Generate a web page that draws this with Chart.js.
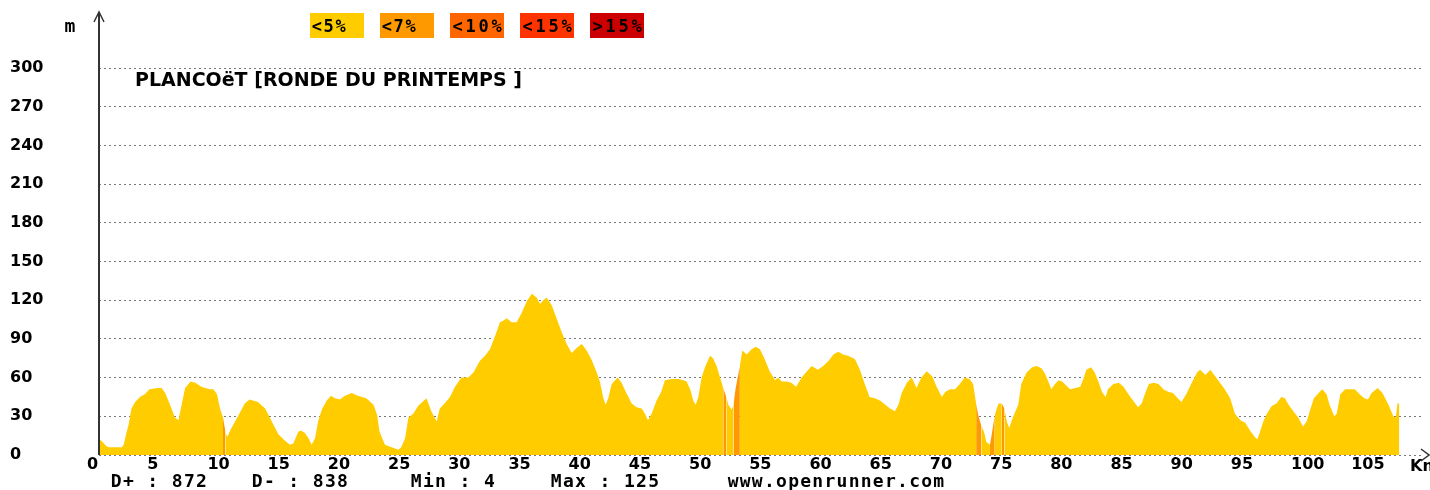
<!DOCTYPE html>
<html>
<head>
<meta charset="utf-8">
<script src="https://cdn.jsdelivr.net/npm/chart.js@4/dist/chart.umd.min.js"></script>
<style>
  html, body { margin: 0; padding: 0; background: #fff; }
  #wrap { width: 1430px; height: 490px; }
</style>
</head>
<body>
<div id="wrap"><canvas id="profile-canvas" width="1430" height="490"></canvas></div>
<script>
// distance (km) and elevation (m) of the profile
const km = [
  0, 0.2, 0.6, 0.8, 1.9, 2.05, 2.3, 2.45, 2.7, 3.0, 3.4, 3.8, 4.2, 4.9, 5.2, 5.5, 5.9, 6.3, 6.6, 6.8,
  7.15, 7.6, 8.0, 8.5, 9.2, 9.5, 9.8, 10.05, 10.3, 10.5, 10.65, 11.0, 11.6, 12.1, 12.5, 13.2, 13.8, 14.35, 14.9, 15.45,
  15.86, 16.14, 16.55, 16.78, 17.1, 17.4, 17.66, 17.94, 18.2, 18.5, 18.9, 19.27, 19.6, 20.0, 20.43, 20.98, 21.5, 22.2, 22.8, 23.1,
  23.3, 23.75, 24.3, 24.86, 25.1, 25.42, 25.7, 26.1, 26.5, 26.97, 27.2, 27.6, 28.05, 28.3, 28.7, 29.15, 29.57, 30.1, 30.67, 31.1,
  31.64, 32.06, 32.47, 32.89, 33.3, 33.58, 33.86, 34.27, 34.69, 35.1, 35.52, 35.94, 36.35, 36.63, 36.9, 37.18, 37.6, 38.0, 38.4, 38.84,
  39.26, 39.67, 40.1, 40.5, 40.9, 41.3, 41.6, 41.89, 42.08, 42.3, 42.58, 43.08, 43.4, 43.8, 44.24, 44.65, 45.07, 45.35, 45.6, 45.9,
  46.3, 46.7, 47.0, 47.56, 48.12, 48.53, 48.8, 49.1, 49.36, 49.56, 49.78, 50.05, 50.33, 50.75, 51.0, 51.3, 51.58, 51.85, 52.1, 52.27,
  52.55, 52.7, 52.88, 53.23, 53.43, 53.8, 54.2, 54.54, 54.9, 55.3, 55.7, 56.15, 56.4, 56.7, 57.1, 57.5, 57.9, 58.36, 58.8, 59.2,
  59.7, 60.15, 60.6, 61.0, 61.4, 61.8, 62.2, 62.65, 62.8, 63.2, 63.6, 64.0, 64.45, 64.9, 65.3, 65.7, 66.1, 66.4, 66.67, 67.1,
  67.5, 67.9, 68.3, 68.74, 69.2, 69.57, 70.0, 70.3, 70.7, 71.1, 71.5, 71.9, 72.3, 72.6, 72.85, 73.05, 73.3, 73.5, 73.7, 74.0,
  74.15, 74.4, 74.7, 74.98, 75.2, 75.4, 75.6, 75.9, 76.35, 76.6, 77.05, 77.5, 77.9, 78.3, 78.57, 78.85, 79.1, 79.4, 79.7, 80.0,
  80.2, 80.65, 81.1, 81.5, 81.8, 82.0, 82.4, 82.7, 83.0, 83.3, 83.6, 83.8, 84.25, 84.7, 85.1, 85.5, 85.9, 86.3, 86.6, 86.9,
  87.2, 87.6, 88.0, 88.4, 88.8, 89.2, 89.6, 89.9, 90.3, 90.76, 91.2, 91.45, 91.9, 92.3, 92.7, 93.1, 93.5, 93.95, 94.35, 94.8,
  95.2, 95.6, 96.0, 96.2, 96.4, 96.7, 97.0, 97.4, 97.8, 98.2, 98.5, 98.8, 99.2, 99.6, 100.0, 100.3, 100.6, 100.9, 101.3, 101.6,
  101.96, 102.2, 102.6, 102.8, 103.1, 103.5, 103.9, 104.3, 104.7, 105.1, 105.4, 105.7, 106.2, 106.6, 107.1, 107.5, 107.7, 107.85, 108.0
];
const elevation = [
  12, 11, 7, 6, 6, 8, 18, 23, 36, 41, 45, 47, 51, 52, 52, 48, 39, 29, 27, 36,
  52, 57, 56, 53, 51, 51, 47, 36, 29, 18, 14, 21, 31, 40, 43, 41, 36, 26, 16, 11,
  8, 9, 18, 19, 17, 13, 8, 13, 26, 35, 42, 46, 44, 43, 46, 48, 46, 44, 39, 31,
  18, 8, 6, 4, 6, 13, 29, 32, 38, 42, 44, 34, 26, 36, 40, 45, 53, 60, 60, 64,
  73, 77, 82, 92, 103, 104, 106, 103, 103, 110, 119, 125, 122, 117, 120, 122, 116, 106, 96, 86,
  79, 83, 86, 81, 74, 65, 57, 44, 39, 44, 55, 60, 56, 48, 40, 37, 36, 32, 27, 32,
  42, 49, 58, 59, 59, 58, 57, 51, 42, 39, 45, 60, 68, 77, 75, 69, 60, 52, 45, 39,
  35, 39, 52, 69, 81, 78, 82, 84, 82, 74, 65, 58, 60, 57, 57, 56, 53, 60, 65, 69,
  66, 69, 73, 78, 80, 78, 77, 75, 74, 66, 55, 45, 44, 42, 39, 36, 34, 39, 48, 56,
  60, 52, 60, 65, 61, 53, 45, 49, 51, 51, 55, 60, 59, 55, 40, 30, 22, 18, 10, 8,
  16, 31, 40, 40, 36, 26, 21, 29, 39, 55, 64, 68, 69, 67, 63, 57, 51, 55, 58, 57,
  55, 51, 52, 53, 60, 66, 68, 64, 57, 49, 45, 51, 55, 56, 53, 47, 42, 37, 40, 48,
  55, 56, 55, 51, 49, 48, 44, 41, 47, 56, 64, 66, 62, 66, 61, 56, 51, 44, 32, 27,
  25, 19, 14, 12, 17, 26, 32, 38, 40, 45, 44, 39, 34, 29, 22, 26, 35, 44, 48, 51,
  47, 39, 30, 32, 47, 51, 51, 51, 47, 44, 43, 48, 52, 48, 39, 30, 29, 40, 40
];
// stretches where the grade is above 5 % (km from, km to)
const steepStretches = [[10.3, 10.5], [51.85, 52.1], [52.7, 53.23], [72.85, 73.3], [74.0, 74.4], [74.98, 75.2]];

const gradeLabels = ['<5%', '<7%', '<10%', '<15%', '>15%'];
const gradeColors = ['#FFCC00', '#FF9900', '#FF6600', '#FF3300', '#CC0000'];

const statLabels = ['D+', 'D-', 'Min', 'Max'];
const statValues = [872, 838, 4, 125];
const routeTitle = 'PLANCOëT [RONDE DU PRINTEMPS ]';
const siteName = 'www.openrunner.com';

const PX_PER_KM = 12.04;
const monoFont = 'bold 18px "DejaVu Sans Mono"';

function monoText(ctx, str, x, y, pitch) {
  ctx.textAlign = 'center';
  for (let i = 0; i < str.length; i++) {
    ctx.fillText(str[i], x + i * pitch + pitch / 2, y);
  }
}

function isSteep(a, b) {
  const mid = (a + b) / 2;
  return steepStretches.some(r => mid >= r[0] && mid <= r[1]);
}

const decor = {
  id: 'decor',
  afterDraw(chart) {
    const {ctx, chartArea: a} = chart;
    ctx.save();
    // vertical axis with arrow
    ctx.strokeStyle = '#333';
    ctx.lineWidth = 2;
    ctx.beginPath();
    ctx.moveTo(a.left, a.bottom);
    ctx.lineTo(a.left, 13);
    ctx.stroke();
    ctx.lineWidth = 1.5;
    ctx.beginPath();
    ctx.moveTo(a.left - 5, 22);
    ctx.lineTo(a.left, 12);
    ctx.lineTo(a.left + 5, 22);
    ctx.stroke();
    // horizontal arrow head
    ctx.beginPath();
    ctx.moveTo(a.right, a.bottom - 6);
    ctx.lineTo(a.right + 8, a.bottom);
    ctx.lineTo(a.right, a.bottom + 6);
    ctx.stroke();

    ctx.fillStyle = '#000';
    ctx.textBaseline = 'alphabetic';
    ctx.font = monoFont;
    monoText(ctx, 'm', 64, 32, 12);

    // grade legend
    gradeLabels.forEach((lab, i) => {
      const x = 310 + i * 70;
      ctx.fillStyle = gradeColors[i];
      ctx.fillRect(x, 13, 54, 25);
      ctx.fillStyle = '#000';
      ctx.font = 'bold 17px "DejaVu Sans Mono"';
      monoText(ctx, lab, x + 1, 32, lab.length > 3 ? 13 : 11.8);
    });

    // title
    ctx.textAlign = 'left';
    ctx.font = 'bold 19px "DejaVu Sans"';
    ctx.fillText(routeTitle, 135, 86);

    // km label
    ctx.font = 'bold 16px "DejaVu Sans"';
    ctx.fillText('Km', 1410, 471);

    // stats line
    ctx.font = monoFont;
    const statX = [110, 251, 410, 550];
    statLabels.forEach((lab, i) => {
      monoText(ctx, lab + ' : ' + statValues[i], statX[i], 487, 12.2);
    });
    monoText(ctx, siteName, 727, 487, 12.1);
    ctx.restore();
  }
};

const ctx = document.getElementById('profile-canvas').getContext('2d');
const chart = new Chart(ctx, {
  type: 'line',
  data: {
    datasets: [{
      label: 'Altitude',
      data: km.map((k, i) => ({x: k, y: elevation[i]})),
      backgroundColor: gradeColors[0],
      borderColor: 'rgba(0,0,0,0)',
      borderWidth: 0,
      pointRadius: 0,
      tension: 0,
      fill: 'origin',
      segment: {
        backgroundColor: c => isSteep(c.p0.parsed.x, c.p1.parsed.x) ? gradeColors[1] : undefined
      }
    }]
  },
  options: {
    responsive: false,
    animation: false,
    layout: { padding: { left: 10, right: 9, top: 68, bottom: 0 } },
    plugins: { legend: { display: false }, tooltip: { enabled: false } },
    scales: {
      x: {
        type: 'linear',
        min: 0,
        max: (1421 - 99) / PX_PER_KM,
        afterFit: s => { s.height = 35; },
        grid: { display: false, drawTicks: false },
        border: { display: false },
        ticks: {
          stepSize: 5,
          includeBounds: false,
          autoSkip: false,
          maxRotation: 0,
          align: 'start',
          labelOffset: -12,
          padding: 0,
          color: '#000',
          font: { family: 'DejaVu Sans', weight: 'bold', size: 16 },
          callback: v => String(v)
        }
      },
      y: {
        min: 0,
        max: 300,
        afterFit: s => { s.width = 89; },
        grid: { color: '#777', lineWidth: 1, drawTicks: false },
        border: { display: false, dash: [2, 3] },
        ticks: {
          stepSize: 30,
          crossAlign: 'far',
          padding: 0,
          color: '#000',
          font: { family: 'DejaVu Sans', weight: 'bold', size: 16 }
        }
      }
    }
  },
  plugins: [decor]
});
</script>
</body>
</html>
